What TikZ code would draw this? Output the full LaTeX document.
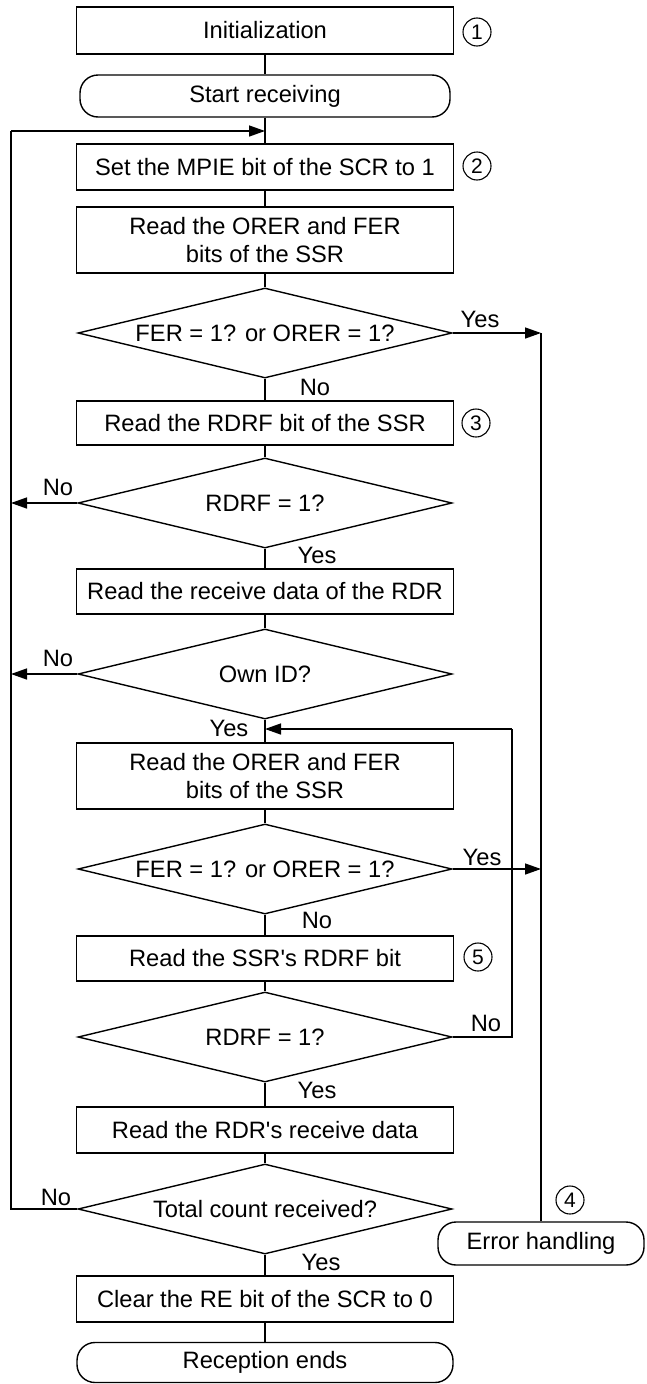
\documentclass[tikz,border=0pt]{standalone}
\usepackage{fontspec}
\setmainfont{Liberation Sans}[Ligatures=TeXOff]
\usetikzlibrary{shapes.geometric,arrows.meta}
\tikzset{
  every node/.style={font=\fontsize{23.7}{28.5}\selectfont},
  proc/.style={draw, line width=1.4pt, rectangle, minimum width=377pt, inner sep=0pt, align=center},
  term/.style={draw, line width=1.4pt, rectangle, rounded corners=18pt, inner sep=0pt, align=center},
  decide/.style={draw, line width=1.4pt, diamond, aspect=4.15, minimum width=374pt, minimum height=90pt, inner sep=0pt},
  num/.style={draw, circle, line width=1.1pt, minimum size=28pt, inner sep=0pt, font=\fontsize{21}{21}\selectfont},
  lbl/.style={inner sep=0pt},
  conn/.style={line width=1.4pt},
  arr/.style={line width=1.4pt, -{Triangle[length=16pt,width=11pt]}}
}
\begin{document}
\begin{tikzpicture}[x=1pt,y=-1pt]
\useasboundingbox (0,0) rectangle (646,1384);
% main column
\node[proc, minimum height=47pt] (init) at (265,30.5) {Initialization};
\node[term, minimum width=370pt, minimum height=42pt] (start) at (265,96) {Start receiving};
\node[proc, minimum height=46pt] (mpie) at (265,167) {Set the MPIE bit of the SCR to 1};
\node[proc, minimum height=66pt] (orerA) at (265,240) {Read the ORER and FER\\bits of the SSR};
\node[decide] (dA) at (265,333) {FER = 1? or ORER = 1?};
\node[proc, minimum height=44pt] (rdrf) at (265,423) {Read the RDRF bit of the SSR};
\node[decide] (dB) at (265,503) {RDRF = 1?};
\node[proc, minimum height=45pt] (rdata) at (265,591.5) {Read the receive data of the RDR};
\node[decide] (dC) at (265,674) {Own ID?};
\node[proc, minimum height=66pt] (orerB) at (265,776) {Read the ORER and FER\\bits of the SSR};
\node[decide] (dD) at (265,869) {FER = 1? or ORER = 1?};
\node[proc, minimum height=45pt] (ssr) at (265,958.5) {Read the SSR's RDRF bit};
\node[decide] (dE) at (265,1037) {RDRF = 1?};
\node[proc, minimum height=46pt] (rdr) at (265,1130) {Read the RDR's receive data};
\node[decide] (dF) at (265,1209) {Total count received?};
\node[proc, minimum height=46pt] (clear) at (265,1299) {Clear the RE bit of the SCR to 0};
\node[term, minimum width=376pt, minimum height=40pt] (fin) at (265,1362.5) {Reception ends};
\node[term, minimum width=206pt, minimum height=43pt] (err) at (541,1243.5) {Error handling};
% circled numbers
\node[num] (n1) at (477,32) {1};
\node[num] (n2) at (477,166) {2};
\node[num] (n3) at (476,423) {3};
\node[num] (n5) at (478,957) {5};
\node[num] (n4) at (570,1200) {4};
% coordinates
\coordinate (busT) at (11,131);
\coordinate (busB) at (11,1209);
\coordinate (joinA) at (265,131);
\coordinate (busNoB) at (11,503);
\coordinate (busNoC) at (11,674);
\coordinate (errA) at (541,333);
\coordinate (errB) at (541,869);
\coordinate (loopA) at (512,1037);
\coordinate (loopB) at (512,729);
\coordinate (joinB) at (265,729);
% straight flow
\draw[conn] (init) -- (start);
\draw[conn] (start) -- (mpie);
\draw[conn] (mpie) -- (orerA);
\draw[conn] (orerA) -- (dA);
\draw[conn] (dA) -- (rdrf);
\draw[conn] (rdrf) -- (dB);
\draw[conn] (dB) -- (rdata);
\draw[conn] (rdata) -- (dC);
\draw[conn] (dC) -- (orerB);
\draw[conn] (orerB) -- (dD);
\draw[conn] (dD) -- (ssr);
\draw[conn] (ssr) -- (dE);
\draw[conn] (dE) -- (rdr);
\draw[conn] (rdr) -- (dF);
\draw[conn] (dF) -- (clear);
\draw[conn] (clear) -- (fin);
% left bus
\draw[conn] (dF.west) -- (busB) -- (busT);
\draw[arr] (busT) -- (joinA);
\draw[arr] (dB.west) -- (busNoB);
\draw[arr] (dC.west) -- (busNoC);
% error path
\draw[arr] (dA.east) -- (errA);
\draw[arr] (dD.east) -- (errB);
\draw[conn] (errA) -- (err.north);
% inner loop
\draw[conn] (dE.east) -- (loopA) -- (loopB);
\draw[arr] (loopB) -- (joinB);
% labels
\node[lbl] at (480,319) {Yes};
\node[lbl] at (315,387) {No};
\node[lbl] at (58,487) {No};
\node[lbl] at (317,555) {Yes};
\node[lbl] at (58,658) {No};
\node[lbl] at (229,728) {Yes};
\node[lbl] at (482,857) {Yes};
\node[lbl] at (317,920) {No};
\node[lbl] at (486,1023) {No};
\node[lbl] at (317,1090) {Yes};
\node[lbl] at (56,1197) {No};
\node[lbl] at (321,1262) {Yes};
\end{tikzpicture}
\end{document}
